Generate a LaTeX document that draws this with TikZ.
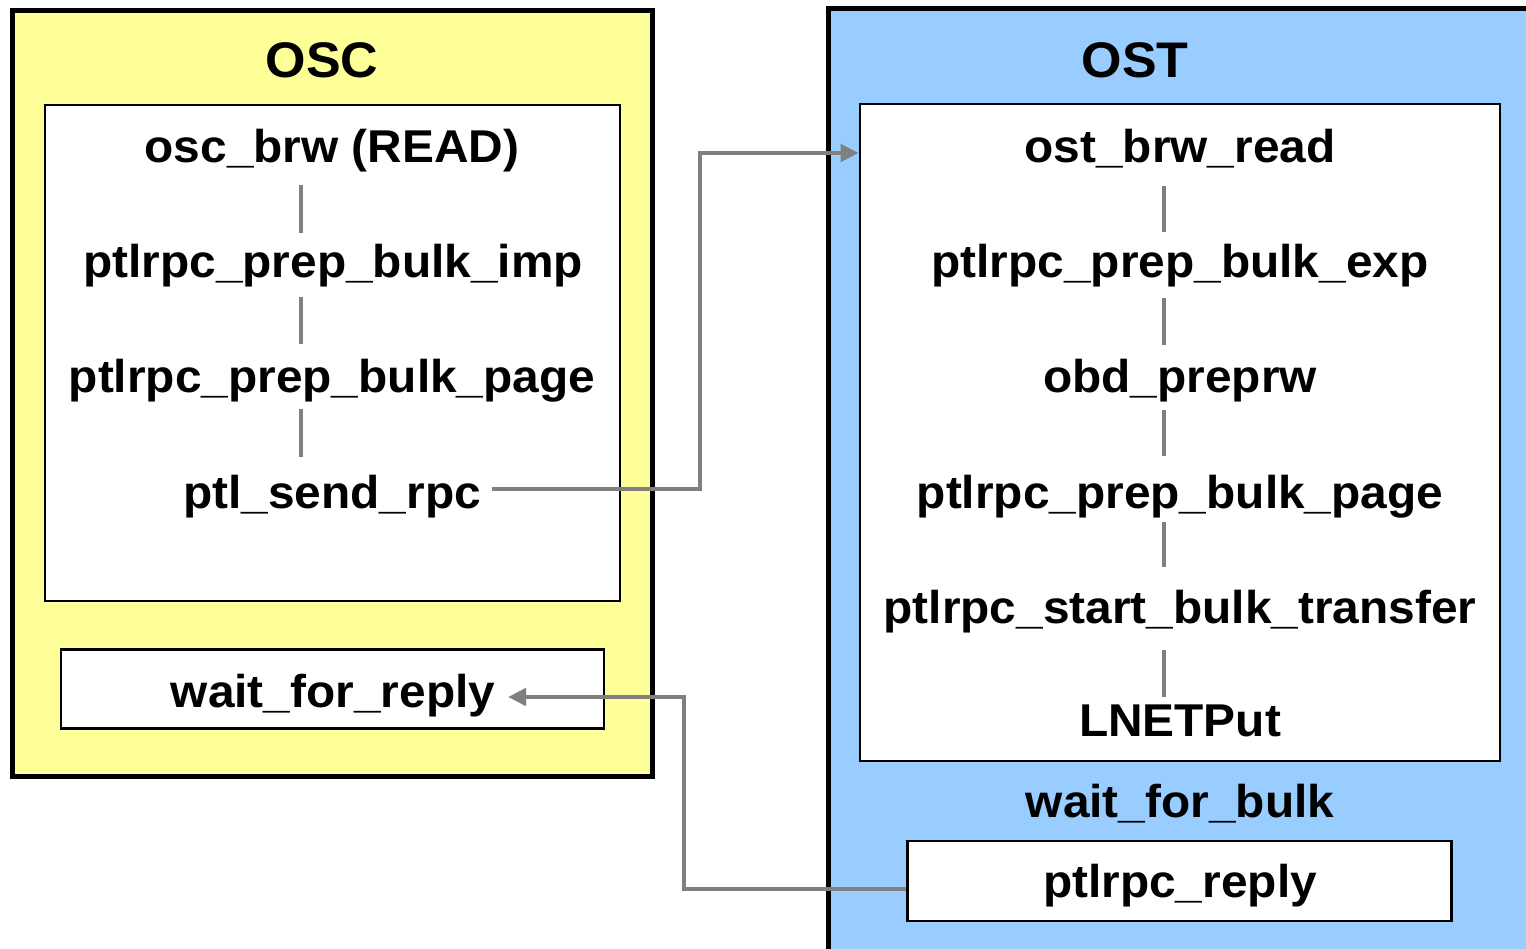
\documentclass[tikz,border=0pt]{standalone}
\usepackage{fontspec}
\setmainfont{Liberation Sans}
\newfontfamily\labelfont{Liberation Sans}[FakeStretch=1.04]
\usetikzlibrary{arrows.meta}
\definecolor{oscfill}{HTML}{FFFF99}
\definecolor{ostfill}{HTML}{99CCFF}
\definecolor{linkgray}{HTML}{808080}
\tikzset{
  outerbox/.style={draw=black, line width=5pt},
  innerbox/.style={draw=black, fill=white, line width=2.6pt, inner sep=0pt},
  fn/.style={inner sep=0pt, anchor=base, font=\labelfont\fontsize{46}{50}\selectfont\bfseries},
  title/.style={inner sep=0pt, anchor=base, font=\labelfont\fontsize{50}{54}\selectfont\bfseries},
  tick/.style={draw=linkgray, line width=4.5pt},
  link/.style={draw=linkgray, line width=4.5pt,
    -{Triangle[length=18pt,width=17pt]}},
}
\begin{document}
\begin{tikzpicture}[x=1pt,y=-1pt]
\useasboundingbox (0,0) rectangle (1526,949);
\clip (0,0) rectangle (1526,949);

% OSC panel
\draw[outerbox, fill=oscfill] (12.5,10.5) rectangle (652.5,776.5);
\node[innerbox, minimum width=575pt, minimum height=496pt] (oscin) at (332.5,353) {};
\node[innerbox, minimum width=543pt, minimum height=79pt] (waitbox) at (332.5,689) {};
\node[title] (osct) at (322,78) {OSC};
\node[fn] (osc1) at (332,163) {osc\_brw (READ)};
\node[fn] (osc2) at (333,278) {ptlrpc\_prep\_bulk\_imp};
\node[fn] (osc3) at (332,393) {ptlrpc\_prep\_bulk\_page};
\node[fn] (osc4) at (332,508) {ptl\_send\_rpc};
\node[fn] (osc5) at (333,707) {wait\_for\_reply};
\coordinate (lt) at (301,0);
\draw[tick] (lt |- 0,185) -- (lt |- 0,233);
\draw[tick] (lt |- 0,297) -- (lt |- 0,344);
\draw[tick] (lt |- 0,409) -- (lt |- 0,457);

% OST panel
\draw[outerbox, fill=ostfill] (828.5,9) rectangle (1560,990);
\node[innerbox, minimum width=640pt, minimum height=657pt] (ostin) at (1180,432.5) {};
\node[innerbox, minimum width=544pt, minimum height=80pt] (replybox) at (1179.5,881) {};
\node[title] (ostt) at (1135,78) {OST};
\node[fn] (ost1) at (1180,163) {ost\_brw\_read};
\node[fn] (ost2) at (1180,278) {ptlrpc\_prep\_bulk\_exp};
\node[fn] (ost3) at (1180,393) {obd\_preprw};
\node[fn] (ost4) at (1180,508) {ptlrpc\_prep\_bulk\_page};
\node[fn] (ost5) at (1180,623) {ptlrpc\_start\_bulk\_transfer};
\node[fn] (ost6) at (1180,736) {LNETPut};
\node[fn] (ost7) at (1180,817) {wait\_for\_bulk};
\node[fn] (ost8) at (1180,897) {ptlrpc\_reply};
\coordinate (rt) at (1164,0);
\draw[tick] (rt |- 0,186) -- (rt |- 0,232);
\draw[tick] (rt |- 0,298) -- (rt |- 0,345);
\draw[tick] (rt |- 0,410) -- (rt |- 0,456);
\draw[tick] (rt |- 0,522) -- (rt |- 0,567);
\draw[tick] (rt |- 0,650) -- (rt |- 0,697);

% request: ptl_send_rpc -> ost_brw_read
\coordinate (sendout) at (492,489);
\coordinate (upbend) at (700,153);
\draw[link] (sendout) -| (upbend) -- (ostin.west |- upbend);

% reply: ptlrpc_reply -> wait_for_reply
\coordinate (replyout) at (replybox.west |- 0,889);
\coordinate (downbend) at (684,697);
\draw[link] (replyout) -| (downbend) -- (508,697);
\end{tikzpicture}
\end{document}
